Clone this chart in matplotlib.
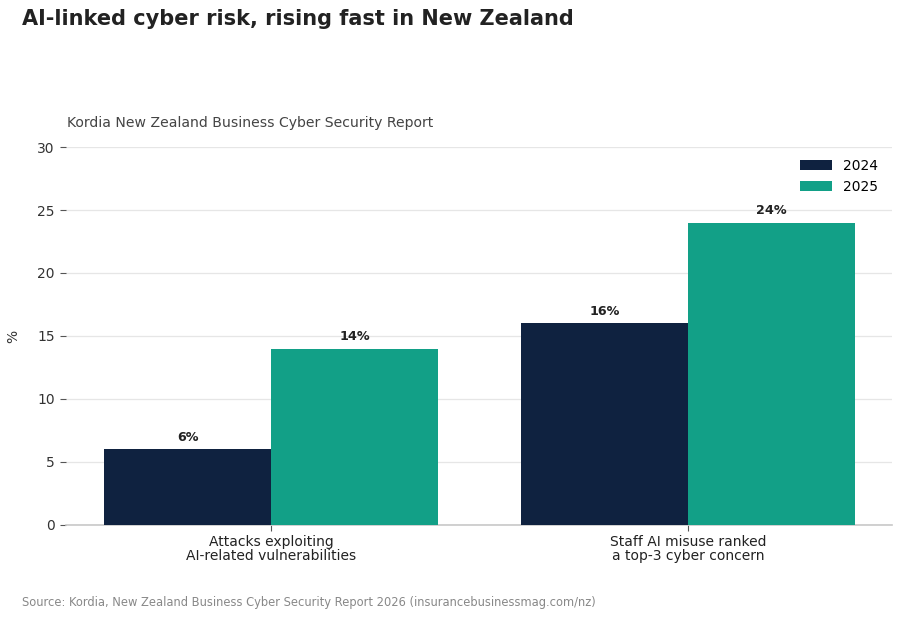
import numpy as np
import matplotlib.pyplot as plt

plt.rcParams['font.family'] = ['DejaVu Sans']

# data
categories = ['Attacks exploiting\nAI-related vulnerabilities',
              'Staff AI misuse ranked\na top-3 cyber concern']
years = ['2024', '2025']
values_2024 = [6, 16]
values_2025 = [14, 24]
colors = ['#0f2240', '#12a087']

fig = plt.figure(figsize=(9.01, 6.19), dpi=100)
ax = fig.add_axes([0.0733, 0.1519, 0.9167, 0.6106])

x = np.arange(len(categories))
w = 0.4
b1 = ax.bar(x - w / 2, values_2024, w, color=colors[0], label=years[0], zorder=3)
b2 = ax.bar(x + w / 2, values_2025, w, color=colors[1], label=years[1], zorder=3)

for bars in (b1, b2):
    for r in bars:
        ax.text(r.get_x() + r.get_width() / 2, r.get_height() + 0.45,
                f'{r.get_height():.0f}%', ha='center', va='bottom',
                fontsize=9.2, fontweight='bold', color='#222222')

ax.set_xlim(-0.492, 1.489)
ax.set_ylim(0, 30)
ax.set_yticks(range(0, 31, 5))
ax.set_xticks(x)
ax.set_xticklabels(categories, fontsize=10, color='#222222', linespacing=1.05)
ax.grid(axis='y', color='#e6e6e6', linewidth=0.9, zorder=0)
for s in ['top', 'right', 'left']:
    ax.spines[s].set_visible(False)
ax.spines['bottom'].set_color('#c8c8c8')
ax.spines['bottom'].set_linewidth(1.2)
ax.tick_params(axis='y', length=4, color='#555555', labelcolor='#333333',
               labelsize=10, pad=4)
ax.tick_params(axis='x', length=4, color='#555555', pad=3)
ax.set_ylabel('%', fontsize=10, color='#333333')
ax.yaxis.set_label_coords(-0.056, 0.5)

ax.legend(loc='upper right', frameon=False, fontsize=10,
          handlelength=2.3, handleheight=0.8, labelspacing=0.5,
          borderaxespad=0.6, bbox_to_anchor=(1.0, 1.005))

fig.text(0.0244, 0.97, 'AI-linked cyber risk, rising fast in New Zealand',
         fontsize=15, fontweight='bold', color='#222222', va='center')
fig.text(0.0744, 0.802, 'Kordia New Zealand Business Cyber Security Report',
         fontsize=10.1, color='#444444', va='center')
fig.text(0.0244, 0.027,
         'Source: Kordia, New Zealand Business Cyber Security Report 2026 (insurancebusinessmag.com/nz)',
         fontsize=8.3, color='#888888', va='center')

fig.savefig('out.png', dpi=100)
